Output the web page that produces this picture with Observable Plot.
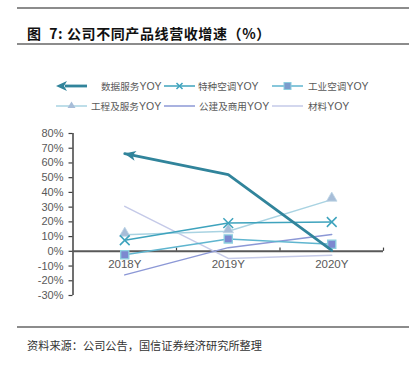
<!DOCTYPE html>
<html><head><meta charset="utf-8">
<script src="https://cdn.jsdelivr.net/npm/d3@7"></script>
<script src="https://cdn.jsdelivr.net/npm/@observablehq/plot@0.6"></script>
<style>
body{margin:0;background:#fff;}
#wrap{position:relative;width:416px;height:368px;overflow:hidden;background:#fff;font-family:"Liberation Sans",Arial,"Noto Sans CJK SC",sans-serif;}
.abs{position:absolute;}
.rule{position:absolute;left:17px;width:392px;height:1.5px;background:#8c8c8c;}
.title{left:27px;top:23px;font-family:"Noto Sans CJK SC",sans-serif;font-weight:bold;font-size:14px;letter-spacing:0.6px;line-height:20px;color:#111;white-space:nowrap;}
.src{left:27px;top:337px;font-family:"Noto Sans CJK SC",sans-serif;font-size:11.2px;line-height:16px;color:#333;white-space:nowrap;}
.lg{position:absolute;font-size:9.6px;line-height:14px;color:#595959;white-space:nowrap;font-family:"Noto Sans CJK SC",sans-serif;}
.lg .y{font-family:"Liberation Sans",Arial,sans-serif;font-size:10.5px;}
.ic{position:absolute;}
</style></head>
<body>
<div id="wrap"><div id="plot" class="abs" style="left:0;top:0"></div></div>
<script>
const categories = ["2018Y", "2019Y", "2020Y"];
const seriesNames = ["数据服务YOY", "特种空调YOY", "工业空调YOY", "工程及服务YOY", "公建及商用YOY", "材料YOY"];
const dataService = [66.3, 52.1, 0.6];
const specialAC = [7.5, 19.2, 19.9];
const industrialAC = [-2.3, 8.4, 4.8];
const engService = [11.3, 13.6, 35.1];
const publicComm = [-16, 2.5, 11.5];
const materials = [30.5, -4.8, -2.7];
const yTicks = [-30, -20, -10, 0, 10, 20, 30, 40, 50, 60, 70, 80];
const colors = ["#31849b", "#3ea3bd", "#5fb5cf", "#a9d3e2", "#8c98d6", "#c5cae8"];

const rows = (vals) => vals.map((v, i) => ({i, v, cat: categories[i]}));

function arrowMarker(color) {
  const m = d3.create("svg:marker")
    .attr("viewBox", "-12 -6 13 12")
    .attr("markerWidth", 13).attr("markerHeight", 12)
    .attr("markerUnits", "userSpaceOnUse")
    .attr("orient", "auto-start-reverse")
    .attr("fill", color).attr("stroke", "none");
  m.append("path").attr("d", "M0.5,0L-11,-5L-8,0L-11,5Z");
  return m.node();
}

const plot = Plot.plot({
  width: 416, height: 368,
  marginLeft: 72.5, marginRight: 33, marginTop: 133, marginBottom: 73,
  style: {fontFamily: '"Liberation Sans", Arial, sans-serif', fontSize: "11px", color: "#595959", background: "transparent"},
  x: {domain: [-0.5, categories.length - 0.5], axis: null},
  y: {domain: [d3.min(yTicks), d3.max(yTicks)], label: null},
  marks: [
    Plot.axisY({ticks: yTicks, tickFormat: d => d + "%", tickSize: 4, tickPadding: 5.5, fontSize: 11, stroke: "#404040", strokeWidth: 1.2, label: null}),
    Plot.ruleX([-0.5], {y1: d3.min(yTicks), y2: d3.max(yTicks), stroke: "#404040", strokeWidth: 1.5}),
    Plot.ruleX(categories.map((_, i) => i + 0.5), {y1: 0, y2: 2.2, stroke: "#404040", strokeWidth: 1.2}),
    Plot.ruleY([0], {x1: -0.5, x2: categories.length - 0.5, stroke: "#595959", strokeWidth: 2}),
    Plot.text(categories, {x: (d, i) => i, y: 0, dy: 13, text: d => d, fill: "#595959", fontSize: 11.5}),
    Plot.line(rows(materials), {x: "i", y: "v", stroke: colors[5], strokeWidth: 1.5}),
    Plot.line(rows(publicComm), {x: "i", y: "v", stroke: colors[4], strokeWidth: 1.5}),
    Plot.line(rows(engService), {x: "i", y: "v", stroke: colors[3], strokeWidth: 1.5}),
    Plot.dot(rows(engService), {x: "i", y: "v", symbol: "triangle", r: 3.9, fill: "#a7bdd8", stroke: "#bcd5e6", strokeWidth: 0.8, dy: -1.5}),
    Plot.line(rows(industrialAC), {x: "i", y: "v", stroke: colors[2], strokeWidth: 1.5}),
    Plot.dot(rows(industrialAC), {x: "i", y: "v", symbol: "square", r: 4.6, fill: "#7c88d0", stroke: "#8ccfe0", strokeWidth: 1.3}),
    Plot.line(rows(specialAC), {x: "i", y: "v", stroke: colors[1], strokeWidth: 1.5}),
    Plot.dot(rows(specialAC), {x: "i", y: "v", symbol: "times", r: 4.5, stroke: colors[1], strokeWidth: 1.5}),
    Plot.line(rows(dataService), {x: "i", y: "v", stroke: colors[0], strokeWidth: 2.8, markerStart: arrowMarker})
  ]
});
document.getElementById("plot").appendChild(plot);

const wrap = document.getElementById("wrap");
function add(html) { wrap.insertAdjacentHTML("beforeend", html); }
add('<div class="rule" style="top:7px"></div>');
add('<div class="abs title">图&nbsp;&nbsp;7:&nbsp;公司不同产品线营收增速（%）</div>');
add('<div class="rule" style="top:43px"></div>');
add('<div class="rule" style="top:326px"></div>');
add('<div class="abs src">资料来源：公司公告，国信证券经济研究所整理</div>');

// legend
const legendPos = [
  {ix: 56, lx: 101, y: 86}, {ix: 164, lx: 198, y: 86}, {ix: 272, lx: 308, y: 86},
  {ix: 56, lx: 91, y: 106}, {ix: 164, lx: 199, y: 106}, {ix: 272, lx: 308, y: 106}
];
const iconMarks = [
  (c) => `<line x1="9" y1="5" x2="31" y2="5" stroke="${c}" stroke-width="2.8"/><path d="M0,5L11,0L8,5L11,10Z" fill="${c}"/>`,
  (c) => `<line x1="0" y1="5" x2="31" y2="5" stroke="${c}" stroke-width="1.5"/><path d="M12.5,2L18.5,8M18.5,2L12.5,8" stroke="${c}" stroke-width="1.5"/>`,
  (c) => `<line x1="0" y1="5" x2="31" y2="5" stroke="${c}" stroke-width="1.5"/><rect x="12" y="1.5" width="7" height="7" fill="#7c9ccc" stroke="#8ccfe0" stroke-width="1"/>`,
  (c) => `<line x1="0" y1="5" x2="31" y2="5" stroke="${c}" stroke-width="1.5"/><path d="M15.5,0.5L19.5,7L11.5,7Z" fill="#a7bdd8"/>`,
  (c) => `<line x1="0" y1="5" x2="31" y2="5" stroke="${c}" stroke-width="1.5"/>`,
  (c) => `<line x1="0" y1="5" x2="31" y2="5" stroke="${c}" stroke-width="1.5"/>`
];
seriesNames.forEach((name, k) => {
  const p = legendPos[k];
  add(`<svg class="ic" style="left:${p.ix}px;top:${p.y - 5}px" width="32" height="10">${iconMarks[k](colors[k])}</svg>`);
  const cjk = name.replace("YOY", "");
  add(`<div class="lg" style="left:${p.lx}px;top:${p.y - 7}px">${cjk}<span class="y">YOY</span></div>`);
});
</script>
</body></html>
